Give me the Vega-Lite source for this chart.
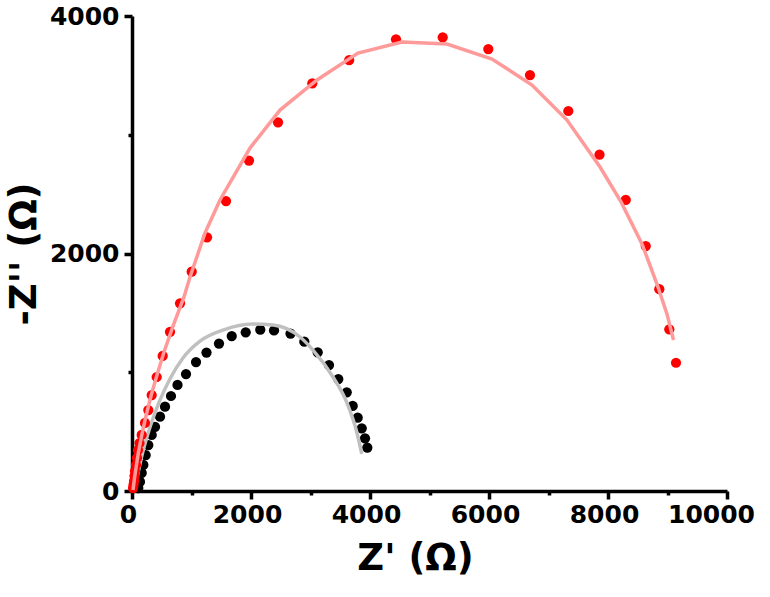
{
  "$schema": "https://vega.github.io/schema/vega-lite/v6.json",
  "autosize": "none",
  "width": 595,
  "height": 475,
  "padding": {"left": 132, "top": 16, "right": 43, "bottom": 106},
  "background": "white",
  "config": {
    "view": {"stroke": null},
    "axis": {
      "grid": false,
      "domainColor": "black",
      "domainWidth": 3.5,
      "tickColor": "black",
      "tickWidth": 3.5,
      "labelFont": "DejaVu Sans",
      "labelFontWeight": "bold",
      "labelFontSize": 25,
      "labelColor": "black",
      "labelOverlap": false,
      "labelBound": false,
      "labelFlush": false,
      "titleFont": "DejaVu Sans",
      "titleFontWeight": "bold",
      "titleFontSize": 37,
      "titleColor": "black"
    }
  },
  "datasets": {
    "blackData": [
      {"zr": 106, "zi": 25}, {"zr": 134, "zi": 78}, {"zr": 163, "zi": 152}, {"zr": 190, "zi": 219},
      {"zr": 230, "zi": 303}, {"zr": 274, "zi": 387}, {"zr": 331, "zi": 472}, {"zr": 387, "zi": 541},
      {"zr": 471, "zi": 626}, {"zr": 555, "zi": 710}, {"zr": 655, "zi": 800}, {"zr": 765, "zi": 893},
      {"zr": 908, "zi": 985}, {"zr": 1076, "zi": 1086}, {"zr": 1252, "zi": 1166}, {"zr": 1462, "zi": 1242},
      {"zr": 1676, "zi": 1305}, {"zr": 1911, "zi": 1336}, {"zr": 2156, "zi": 1358}, {"zr": 2387, "zi": 1352},
      {"zr": 2664, "zi": 1326}, {"zr": 2896, "zi": 1257}, {"zr": 3121, "zi": 1168}, {"zr": 3311, "zi": 1061},
      {"zr": 3467, "zi": 943}, {"zr": 3609, "zi": 831}, {"zr": 3709, "zi": 716}, {"zr": 3793, "zi": 617},
      {"zr": 3861, "zi": 528}, {"zr": 3916, "zi": 444}, {"zr": 3955, "zi": 365}
    ],
    "blackFit": [
      {"zr": 34, "zi": 0}, {"zr": 76, "zi": 93}, {"zr": 160, "zi": 286}, {"zr": 303, "zi": 539},
      {"zr": 471, "zi": 766}, {"zr": 639, "zi": 945}, {"zr": 857, "zi": 1120}, {"zr": 1143, "zi": 1262},
      {"zr": 1529, "zi": 1355}, {"zr": 2034, "zi": 1406}, {"zr": 2370, "zi": 1398}, {"zr": 2824, "zi": 1297},
      {"zr": 3042, "zi": 1187}, {"zr": 3378, "zi": 960}, {"zr": 3614, "zi": 741}, {"zr": 3782, "zi": 488},
      {"zr": 3861, "zi": 312}
    ],
    "redData": [
      {"zr": 17, "zi": 25}, {"zr": 25, "zi": 51}, {"zr": 34, "zi": 84}, {"zr": 42, "zi": 126},
      {"zr": 50, "zi": 168}, {"zr": 67, "zi": 219}, {"zr": 84, "zi": 278}, {"zr": 101, "zi": 345},
      {"zr": 126, "zi": 404}, {"zr": 163, "zi": 472}, {"zr": 218, "zi": 573}, {"zr": 274, "zi": 682},
      {"zr": 331, "zi": 808}, {"zr": 415, "zi": 960}, {"zr": 516, "zi": 1137}, {"zr": 639, "zi": 1341},
      {"zr": 807, "zi": 1581}, {"zr": 1003, "zi": 1847}, {"zr": 1261, "zi": 2136}, {"zr": 1580, "zi": 2442},
      {"zr": 1966, "zi": 2783}, {"zr": 2454, "zi": 3105}, {"zr": 3030, "zi": 3433}, {"zr": 3650, "zi": 3629},
      {"zr": 4437, "zi": 3804}, {"zr": 5222, "zi": 3821}, {"zr": 5988, "zi": 3722}, {"zr": 6689, "zi": 3503},
      {"zr": 7333, "zi": 3200}, {"zr": 7857, "zi": 2832}, {"zr": 8298, "zi": 2451}, {"zr": 8634, "zi": 2063},
      {"zr": 8862, "zi": 1699}, {"zr": 9030, "zi": 1362}, {"zr": 9143, "zi": 1080}
    ],
    "redFit": [
      {"zr": 17, "zi": 8}, {"zr": 42, "zi": 109}, {"zr": 67, "zi": 194}, {"zr": 109, "zi": 328},
      {"zr": 168, "zi": 480}, {"zr": 235, "zi": 632}, {"zr": 319, "zi": 800}, {"zr": 420, "zi": 977},
      {"zr": 538, "zi": 1171}, {"zr": 689, "zi": 1389}, {"zr": 874, "zi": 1634}, {"zr": 975, "zi": 1802},
      {"zr": 1227, "zi": 2173}, {"zr": 1479, "zi": 2451}, {"zr": 1983, "zi": 2888}, {"zr": 2487, "zi": 3208},
      {"zr": 3109, "zi": 3461}, {"zr": 3798, "zi": 3688}, {"zr": 4538, "zi": 3781}, {"zr": 5294, "zi": 3764},
      {"zr": 6050, "zi": 3638}, {"zr": 6723, "zi": 3419}, {"zr": 7311, "zi": 3124}, {"zr": 7866, "zi": 2728},
      {"zr": 8219, "zi": 2434}, {"zr": 8571, "zi": 2080}, {"zr": 8823, "zi": 1743}, {"zr": 8991, "zi": 1491},
      {"zr": 9101, "zi": 1272}
    ]
  },
  "encoding": {
    "x": {
      "field": "zr",
      "type": "quantitative",
      "scale": {"domain": [0, 10000], "nice": false, "zero": true},
      "axis": {
        "title": "Z' (Ω)",
        "titleX": 283,
        "values": [0, 1000, 2000, 3000, 4000, 5000, 6000, 7000, 8000, 9000, 10000],
        "labelExpr": "datum.value % 2000 === 0 ? datum.value : ''",
        "labelOffset": {"condition": {"test": "datum.value === 10000", "value": -16}, "value": -4},
        "tickSize": {"condition": {"test": "datum.value % 2000 === 0", "value": 8}, "value": 4},
        "labelPadding": 3,
        "titlePadding": 13
      }
    },
    "y": {
      "field": "zi",
      "type": "quantitative",
      "scale": {"domain": [0, 4000], "nice": false, "zero": true},
      "axis": {
        "title": "-Z'' (Ω)",
        "values": [0, 1000, 2000, 3000, 4000],
        "labelExpr": "datum.value % 2000 === 0 ? datum.value : ''",
        "tickSize": {"condition": {"test": "datum.value % 2000 === 0", "value": 8}, "value": 4},
        "labelPadding": 5,
        "titlePadding": 6
      }
    }
  },
  "layer": [
    {
      "data": {"name": "blackData"},
      "mark": {"type": "circle", "size": 105, "color": "black", "opacity": 1}
    },
    {
      "data": {"name": "blackFit"},
      "mark": {"type": "line", "color": "#c0c0c0", "strokeWidth": 3.5, "interpolate": "monotone"}
    },
    {
      "data": {"name": "redData"},
      "mark": {"type": "circle", "size": 105, "color": "#ff0000", "opacity": 1}
    },
    {
      "data": {"name": "redFit"},
      "mark": {"type": "line", "color": "#ff9a9a", "strokeWidth": 3.5, "interpolate": "linear"}
    }
  ]
}
